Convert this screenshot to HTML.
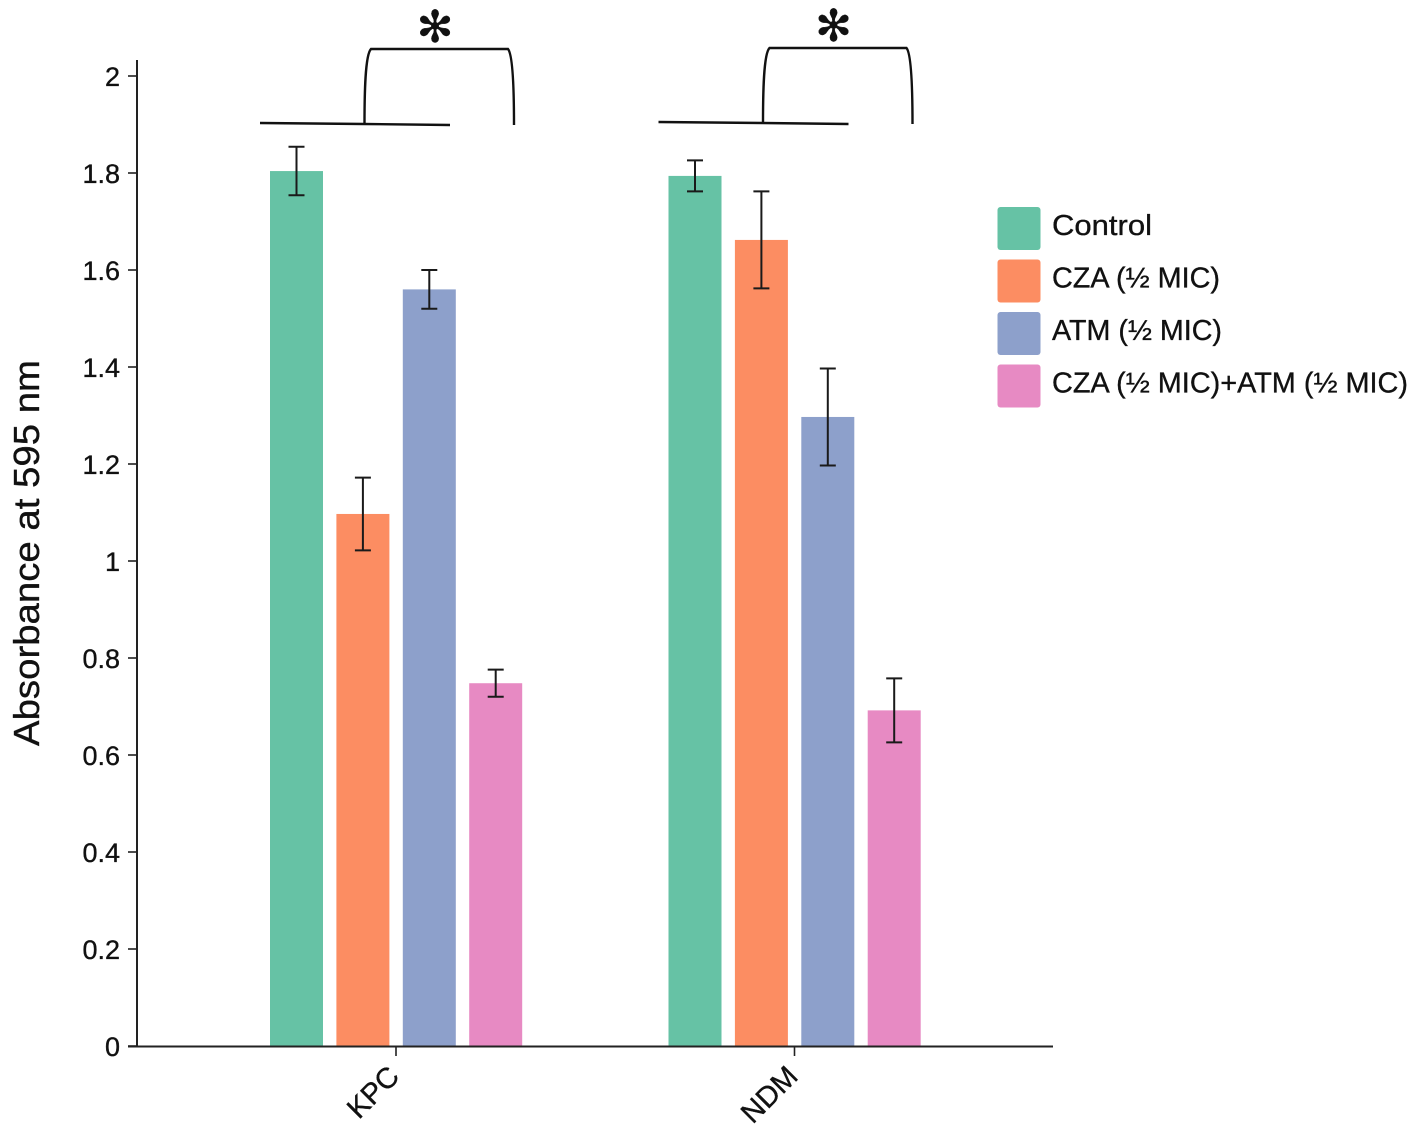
<!DOCTYPE html>
<html lang="en">
<head>
<meta charset="utf-8">
<title>Absorbance at 595 nm</title>
<style>
html,body{margin:0;padding:0;background:#fff;width:1417px;height:1136px;overflow:hidden}
svg{display:block}
text{font-family:"Liberation Sans",sans-serif;fill:#111;stroke:#111;stroke-width:.35px}
</style>
</head>
<body>
<svg id="chart" xmlns="http://www.w3.org/2000/svg" width="1417" height="1136" viewBox="0 0 1417 1136"></svg>
<script>
const categories = ['KPC', 'NDM'];
const seriesNames = ['Control', 'CZA (½ MIC)', 'ATM (½ MIC)', 'CZA (½ MIC)+ATM (½ MIC)'];
const seriesSlugs = ['control', 'cza', 'atm', 'cza-atm'];
const control = [1.804, 1.794];
const cza = [1.097, 1.662];
const atm = [1.56, 1.297];
const combo = [0.748, 0.692];
const controlErr = [0.05, 0.032];
const czaErr = [0.075, 0.1];
const atmErr = [0.04, 0.1];
const comboErr = [0.028, 0.066];
const yTicks = ['0', '0.2', '0.4', '0.6', '0.8', '1', '1.2', '1.4', '1.6', '1.8', '2'];

const seriesValues = [control, cza, atm, combo];
const seriesErrors = [controlErr, czaErr, atmErr, comboErr];
const colors = ['#66c2a5', '#fc8d62', '#8da0cb', '#e78ac3'];
const svg = document.getElementById('chart');
const NS = 'http://www.w3.org/2000/svg';

function y(v) { return 1046 - v * 485; }
function groupX(i) { return 396 + i * 398.5; }
function barX(i, s) { return groupX(i) - 126 + s * 66.4; }

function make(tag, attrs, text) {
  const el = document.createElementNS(NS, tag);
  for (const k in attrs) el.setAttribute(k, attrs[k]);
  if (text !== undefined) el.textContent = text;
  svg.appendChild(el);
  return el;
}

/* bars */
seriesValues.forEach(function (vals, s) {
  vals.forEach(function (v, i) {
    const bar = make('rect', { x: barX(i, s), y: y(v), width: 53, height: y(0) - y(v), fill: colors[s] });
    
    
  });
});

/* error bars */
seriesValues.forEach(function (vals, s) {
  vals.forEach(function (v, i) {
    const e = seriesErrors[s][i];
    const cx = barX(i, s) + 26.5;
    const d = 'M' + cx + ' ' + y(v + e) + 'V' + y(v - e) +
      'M' + (cx - 8) + ' ' + y(v + e) + 'H' + (cx + 8) +
      'M' + (cx - 8) + ' ' + y(v - e) + 'H' + (cx + 8);
    const err = make('path', { d: d, fill: 'none', stroke: '#1a1a1a', 'stroke-width': 2 });
    
    
  });
});

/* y axis */
const yAxis = make('path', { d: 'M137 60V1046', fill: 'none', stroke: '#222', 'stroke-width': 2 });



yTicks.forEach(function (t) {
  const v = parseFloat(t);
  const tick = make('path', { d: 'M128 ' + y(v) + 'H137', stroke: '#222', 'stroke-width': 1.6 });
  
  
  const label = make('text', { x: 120, y: y(v) + 10, 'text-anchor': 'end', 'font-size': 27 }, t);
  
  
});

const yTitle = make('text', {
  transform: 'translate(39 553) rotate(-90)', 'text-anchor': 'middle',
  'font-size': 36, textLength: 386, lengthAdjust: 'spacingAndGlyphs'
}, 'Absorbance at 595 nm');



/* x axis */
const xAxis = make('path', { d: 'M128 1046.5H1053', fill: 'none', stroke: '#222', 'stroke-width': 2 });



categories.forEach(function (c, i) {
  const gx = groupX(i);
  const tick = make('path', { d: 'M' + gx + ' 1046V1056', stroke: '#222', 'stroke-width': 1.6 });
  
  
  const label = make('text', {
    transform: 'translate(' + (gx + 5) + ' 1078) rotate(-45)', 'text-anchor': 'end', 'font-size': 29
  }, c);
  
  
});

/* significance brackets */
categories.forEach(function (c, i) {
  const o = groupX(i) - 396;
  const dy = i === 0 ? 0 : -1;
  const base = make('path', {
    d: 'M' + (260 + o) + ' ' + (123 + dy) + 'L' + (364 + o) + ' ' + (124 + dy) + 'L' + (450 + o) + ' ' + (125 + dy),
    fill: 'none', stroke: '#111', 'stroke-width': 2.4
  });
  
  
  const bracket = make('path', {
    d: 'M' + (364.5 + o) + ' ' + (124 + dy) +
       'C' + (364.5 + o) + ' ' + (95 + dy) + ' ' + (365 + o) + ' ' + (55 + dy) + ' ' + (371 + o) + ' ' + (49 + dy) +
       'H' + (508 + o) +
       'C' + (513 + o) + ' ' + (55 + dy) + ' ' + (514 + o) + ' ' + (95 + dy) + ' ' + (514 + o) + ' ' + (125 + dy),
    fill: 'none', stroke: '#111', 'stroke-width': 2.4
  });
  
  
  const star = make('text', {
    x: 435 + o, y: 42 + dy, 'text-anchor': 'middle', 'font-size': 44,
    style: 'font-family:"DejaVu Sans",sans-serif'
  }, '✻');
  
  
});

/* legend */
const legendLengths = [100, 168, 170, 356];
seriesNames.forEach(function (n, s) {
  const ly = 207 + s * 52.5;
  const swatch = make('rect', { x: 997.5, y: ly, width: 43, height: 43, rx: 3, fill: colors[s] });
  
  
  const label = make('text', {
    x: 1052, y: ly + 28, 'font-size': 29, textLength: legendLengths[s], lengthAdjust: 'spacingAndGlyphs'
  }, n);
  
  
});
</script>
</body>
</html>
